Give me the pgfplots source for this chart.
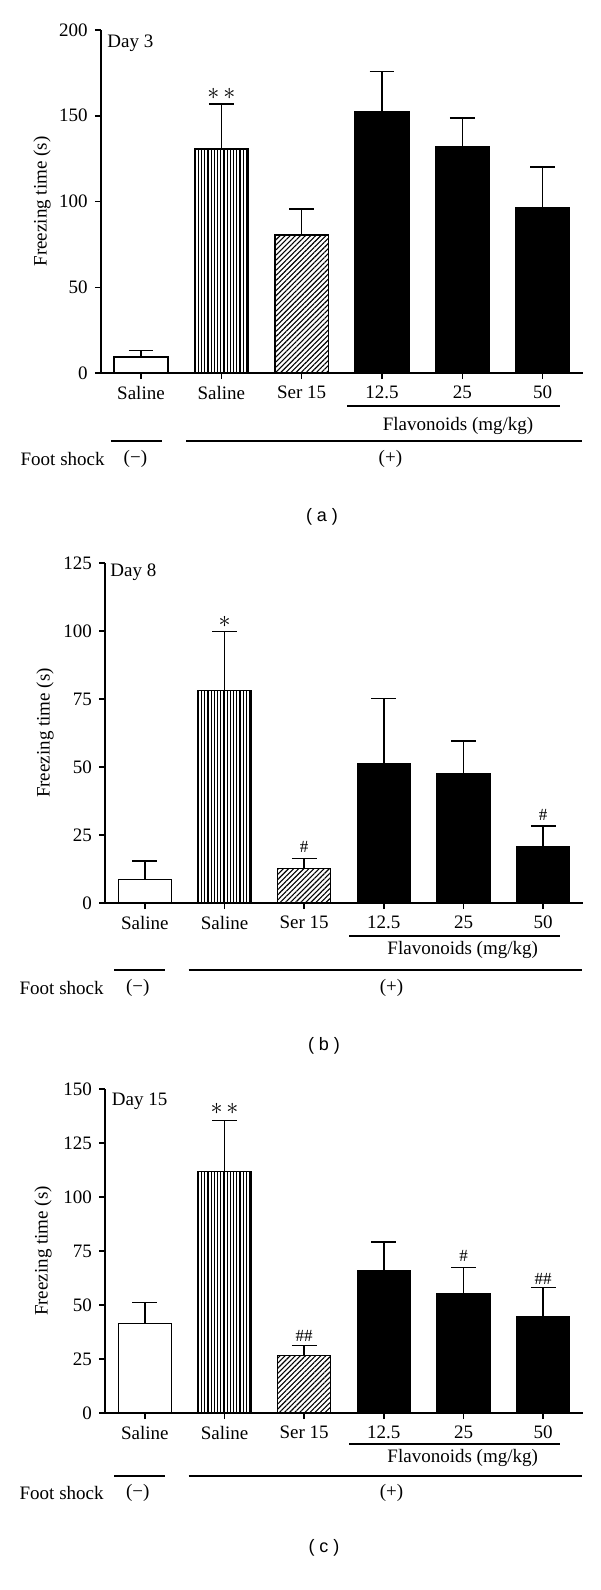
\documentclass[border=0pt]{standalone}
\usepackage{fontspec}
\setmainfont{Liberation Serif}
\newfontfamily\sansf{Liberation Sans}
\usepackage{pgfplots}
\pgfplotsset{compat=1.18}
\usetikzlibrary{patterns.meta}

\pgfplotsset{
  panel/.style={
    scale only axis, axis lines*=left, ymin=0, xmin=-0.5, xmax=5.5,
    enlarge y limits=false, enlarge x limits=false,
    xtick={0,...,5}, xticklabels={Saline,Saline,Ser 15,12.5,25,50},
    tick align=outside, major tick length=3pt,
    axis line style={line width=0.75pt}, tick style={line width=0.75pt, black},
    xticklabel style={font=\fontsize{9.5}{11}\selectfont},
    yticklabel style={font=\fontsize{9.5}{11}\selectfont},
    /pgf/number format/assume math mode=true,
    clip=false,
    ybar, bar width=0.667,
  },
  b/.style={bar shift=0pt, draw=black, line width=0.75pt,
    error bars/y dir=plus, error bars/y explicit,
    error bars/error bar style={line width=0.75pt, black},
    error bars/error mark options={rotate=90, mark size=6.2pt, line width=0.75pt, black}},
  white bar/.style={b, fill=white},
  vert bar/.style={b, pattern={Lines[angle=90,distance=1.6pt,line width=0.6pt]}},
  diag bar/.style={b, pattern={Lines[angle=45,distance=1.8pt,line width=0.55pt]}},
  black bar/.style={b, fill=black},
}
\tikzset{lab/.style={font=\fontsize{9.5}{11}\selectfont}, hline/.style={line width=0.7pt},
  star/.style={font=\fontsize{13}{14}\selectfont, inner sep=0},
  hash/.style={font=\fontsize{8.5}{9}\selectfont, inner sep=0}}

\begin{document}
\begin{tikzpicture}
\useasboundingbox (0,0) rectangle (300pt,-795pt);
% ---------------- panel (a)
\begin{axis}[panel, at={(50.4pt,-186.5pt)}, anchor=south west, width=241pt, height=171.5pt,
  ymax=200, ytick={0,50,...,200}]
\addplot[white bar] coordinates {(0,9.3) +- (0,3.7)};
\addplot[vert bar] coordinates {(1,130.6) +- (0,26.2)};
\addplot[diag bar] coordinates {(2,80.6) +- (0,15.1)};
\addplot[black bar] coordinates {(3,152.5) +- (0,23.3) (4,131.8) +- (0,16.8) (5,96.5) +- (0,23.5)};
\node[lab, anchor=west, inner sep=0] at (rel axis cs:0,1) [xshift=3.1pt, yshift=-6.5pt] {Day 3};
\node[star] at (axis cs:1,163) {$\ast\,\ast$};
\end{axis}
\draw[hline] (173.5pt,-203pt) -- (280pt,-203pt);
\node[lab] at (229pt,-213pt) {Flavonoids (mg/kg)};
\draw[hline] (55.4pt,-220.5pt) -- (80.75pt,-220.5pt);
\draw[hline] (93pt,-220.5pt) -- (290.75pt,-220.5pt);
\node[lab, anchor=east, inner sep=0] at (52.5pt,-229.5pt) {Foot shock};
\node[lab] at (67.7pt,-229.5pt) {(−)};
\node[lab] at (195.2pt,-229.5pt) {(+)};
\node[font=\sansf\fontsize{9}{10}\selectfont] at (161pt,-258.5pt) {( a )};
\node[lab, rotate=90] at (21pt,-100.75pt) {Freezing time (s)};
% ---------------- panel (b)
\begin{axis}[panel, at={(52.5pt,-451.5pt)}, anchor=south west, width=239pt, height=170pt,
  ymax=125, ytick={0,25,...,125}]
\addplot[white bar] coordinates {(0,8.7) +- (0,6.7)};
\addplot[vert bar] coordinates {(1,78.2) +- (0,21.6)};
\addplot[diag bar] coordinates {(2,12.7) +- (0,3.6)};
\addplot[black bar] coordinates {(3,51.2) +- (0,23.9) (4,47.5) +- (0,12.1) (5,20.8) +- (0,7.5)};
\node[lab, anchor=west, inner sep=0] at (rel axis cs:0,1) [xshift=2.5pt, yshift=-4.4pt] {Day 8};
\node[star] at (axis cs:1,103.2) {$\ast$};
\node[hash] at (axis cs:2,20.8) {\#};
\node[hash] at (axis cs:5,32.4) {\#};
\end{axis}
\draw[hline] (174.5pt,-468pt) -- (280pt,-468pt);
\node[lab] at (231.35pt,-475pt) {Flavonoids (mg/kg)};
\draw[hline] (57pt,-485pt) -- (82.3pt,-485pt);
\draw[hline] (94.25pt,-485pt) -- (290.75pt,-485pt);
\node[lab, anchor=east, inner sep=0] at (52pt,-494pt) {Foot shock};
\node[lab] at (68.85pt,-494pt) {(−)};
\node[lab] at (195.75pt,-494pt) {(+)};
\node[font=\sansf\fontsize{9}{10}\selectfont] at (162pt,-523pt) {( b )};
\node[lab, rotate=90] at (22.5pt,-366.5pt) {Freezing time (s)};
% ---------------- panel (c)
\begin{axis}[panel, at={(52.5pt,-706.5pt)}, anchor=south west, width=239pt, height=162pt,
  ymax=150, ytick={0,25,...,150}]
\addplot[white bar] coordinates {(0,41.4) +- (0,9.7)};
\addplot[vert bar] coordinates {(1,111.7) +- (0,23.8)};
\addplot[diag bar] coordinates {(2,26.7) +- (0,4.6)};
\addplot[black bar] coordinates {(3,65.7) +- (0,13.5) (4,55.1) +- (0,12.3) (5,44.6) +- (0,13.6)};
\node[lab, anchor=west, inner sep=0] at (rel axis cs:0,1) [xshift=3.25pt, yshift=-6pt] {Day 15};
\node[star] at (axis cs:1,140.9) {$\ast\,\ast$};
\node[hash] at (axis cs:2,35.8) {\#\#};
\node[hash] at (axis cs:4,72.5) {\#};
\node[hash] at (axis cs:5,62.2) {\#\#};
\end{axis}
\draw[hline] (174.5pt,-722pt) -- (280pt,-722pt);
\node[lab] at (231.35pt,-729pt) {Flavonoids (mg/kg)};
\draw[hline] (57pt,-738pt) -- (82.3pt,-738pt);
\draw[hline] (94.25pt,-738pt) -- (290.75pt,-738pt);
\node[lab, anchor=east, inner sep=0] at (52pt,-746.5pt) {Foot shock};
\node[lab] at (68.85pt,-746.5pt) {(−)};
\node[lab] at (195.75pt,-746.5pt) {(+)};
\node[font=\sansf\fontsize{9}{10}\selectfont] at (162pt,-774pt) {( c )};
\node[lab, rotate=90] at (21.5pt,-625.5pt) {Freezing time (s)};
\end{tikzpicture}
\end{document}
